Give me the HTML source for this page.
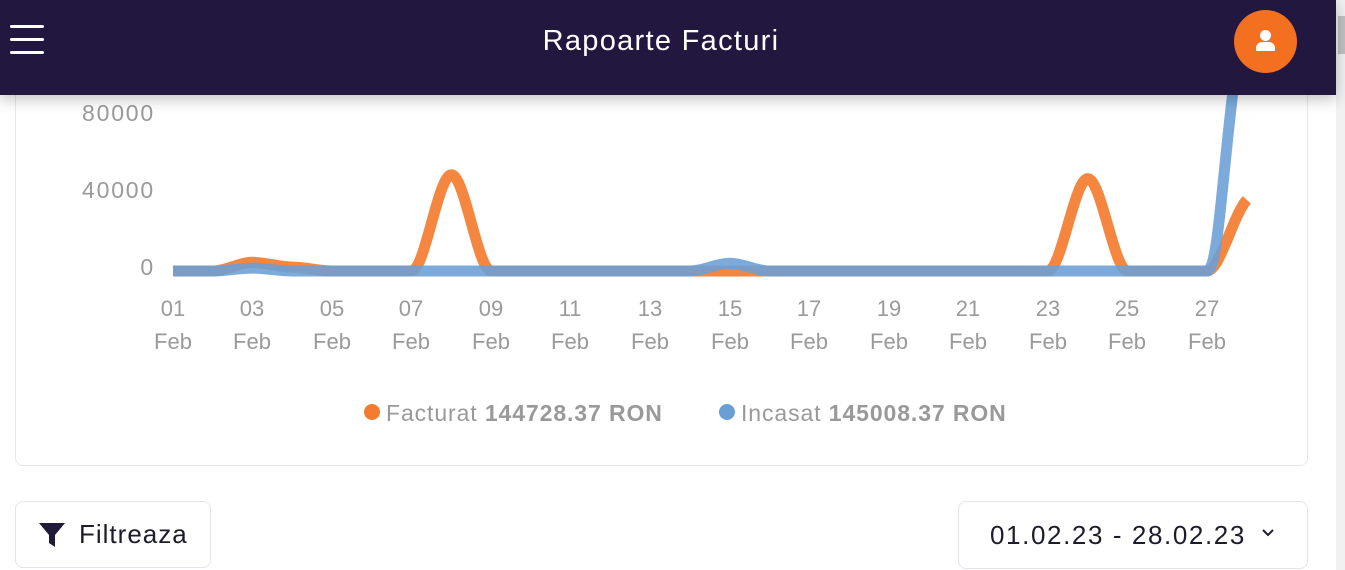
<!DOCTYPE html>
<html><head><meta charset="utf-8"><style>
body{margin:0;width:1345px;height:570px;overflow:hidden;background:#fff;font-family:"Liberation Sans",sans-serif;position:relative}
.hdr{position:absolute;left:0;top:0;width:1336px;height:95px;background:#22173f;box-shadow:0 4px 14px rgba(0,0,0,.25);z-index:5}
.card{position:absolute;left:15px;top:40px;width:1291px;height:424px;border:1px solid #e7e8ef;border-radius:8px}
.lbl{position:absolute;color:#9a9a9a;font-size:22px;text-align:center;width:60px;line-height:33px}
.btn{position:absolute;border:1px solid #e3e5ee;border-radius:8px;background:#fff;font-size:26px;color:#1c1c2a}
.yl{position:absolute;left:40px;width:115px;text-align:right;color:#9a9a9a;font-size:23px;line-height:30px;letter-spacing:1.8px}
</style></head><body>
<div class="card"></div>
<div class="hdr">
 <div style="position:absolute;left:10px;top:25px;width:34px;height:3px;background:#fff;border-radius:2px"></div>
 <div style="position:absolute;left:10px;top:38px;width:34px;height:3px;background:#fff;border-radius:2px"></div>
 <div style="position:absolute;left:10px;top:51px;width:34px;height:3px;background:#fff;border-radius:2px"></div>
 <div style="position:absolute;left:0;width:1322px;top:22px;text-align:center;color:#fff;font-size:29px;line-height:38px;letter-spacing:1.3px">Rapoarte Facturi</div>
 <div style="position:absolute;left:1234px;top:10px;width:63px;height:63px;border-radius:50%;background:#f37021">
  <div style="position:absolute;left:26px;top:20px;width:11px;height:11px;border-radius:50%;background:#fff"></div>
  <div style="position:absolute;left:22px;top:32px;width:19px;height:9px;border-radius:6px 6px 1px 1px;background:#fff"></div>
 </div>
</div>
<div style="position:absolute;left:1336px;top:0;width:9px;height:570px;background:#f1f1f1"></div>
<div style="position:absolute;left:1338px;top:16px;width:7px;height:38px;background:#c1c1c1"></div>

<div class="yl" style="top:98px">80000</div>
<div class="yl" style="top:175px">40000</div>
<div class="yl" style="top:252px">0</div>

<svg style="position:absolute;left:0;top:0" width="1345" height="570">
<path d="M173,271 L212.8,271 C226,271 239,262.3 252.5,262.3 C265.8,262.3 279,267.1 292.3,267.1 C305.6,267.1 318.8,271 332.1,271 L411.6,271 C424.9,271 438.1,174.8 451.4,174.8 C464.7,174.8 477.9,271 491.2,271 L1048,271 C1061.3,271 1074.5,178.6 1087.8,178.6 C1101.1,178.6 1114.2,271 1127.5,271 L1207,271 C1220,271 1233,215 1246.8,199.8" fill="none" stroke="#f47c30" stroke-opacity="0.92" stroke-width="11"/>
<path d="M173,271 L212.8,271 C226,271 239,268.1 252.5,268.1 C265.8,268.1 279,271 292.3,271 L690,271 C703.3,271 716.5,263.3 729.8,263.3 C743,263.3 756.3,271 769.6,271 L1207,271 C1220,271 1222,150 1244,11" fill="none" stroke="#6a9fd6" stroke-opacity="0.88" stroke-width="11"/>
</svg>

<div class="lbl" style="left:143px;top:292px">01<br>Feb</div>
<div class="lbl" style="left:222px;top:292px">03<br>Feb</div>
<div class="lbl" style="left:302px;top:292px">05<br>Feb</div>
<div class="lbl" style="left:381px;top:292px">07<br>Feb</div>
<div class="lbl" style="left:461px;top:292px">09<br>Feb</div>
<div class="lbl" style="left:540px;top:292px">11<br>Feb</div>
<div class="lbl" style="left:620px;top:292px">13<br>Feb</div>
<div class="lbl" style="left:700px;top:292px">15<br>Feb</div>
<div class="lbl" style="left:779px;top:292px">17<br>Feb</div>
<div class="lbl" style="left:859px;top:292px">19<br>Feb</div>
<div class="lbl" style="left:938px;top:292px">21<br>Feb</div>
<div class="lbl" style="left:1018px;top:292px">23<br>Feb</div>
<div class="lbl" style="left:1097px;top:292px">25<br>Feb</div>
<div class="lbl" style="left:1177px;top:292px">27<br>Feb</div>

<div style="position:absolute;left:364px;top:404px;width:16px;height:16px;border-radius:50%;background:#f47c30"></div>
<div style="position:absolute;left:386px;top:398px;font-size:23px;line-height:30px;color:#999;letter-spacing:0.9px;white-space:nowrap">Facturat <b>144728.37 RON</b></div>
<div style="position:absolute;left:719px;top:404px;width:16px;height:16px;border-radius:50%;background:#6a9fd6"></div>
<div style="position:absolute;left:741px;top:398px;font-size:23px;line-height:30px;color:#999;letter-spacing:0.9px;white-space:nowrap">Incasat <b>145008.37 RON</b></div>

<div class="btn" style="left:15px;top:501px;width:194px;height:65px">
 <svg style="position:absolute;left:22px;top:19px" width="28" height="28" viewBox="0 0 28 28"><path d="M1,2 H27 L17,14 V26 L11,22 V14 Z" fill="#1f1a3a"/></svg>
 <div style="position:absolute;left:63px;top:16px;line-height:32px;letter-spacing:1px">Filtreaza</div>
</div>
<div class="btn" style="left:958px;top:501px;width:348px;height:66px">
 <div style="position:absolute;left:31px;top:17px;line-height:32px;letter-spacing:1.6px;white-space:nowrap">01.02.23 - 28.02.23</div>
 <svg style="position:absolute;left:302px;top:26px" width="14" height="10"><path d="M2,2 L7,7 L12,2" fill="none" stroke="#1c1c2a" stroke-width="2"/></svg>
</div>
</body></html>
